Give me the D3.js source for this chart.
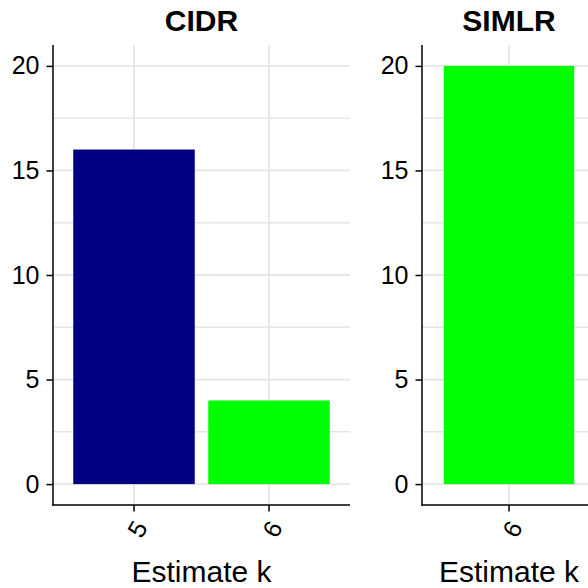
<!DOCTYPE html>
<html>
<head>
<meta charset="utf-8">
<script src="https://cdn.jsdelivr.net/npm/d3@7"></script>
<style>
  html, body { margin: 0; padding: 0; background: #fff; }
  svg { display: block; font-family: "Liberation Sans", Arial, Helvetica, sans-serif; }
</style>
</head>
<body>
<svg id="chart" width="588" height="588"></svg>
<script>
// Estimated number of clusters (k) per method
const methods = ["CIDR", "SIMLR"];
const cidrK = ["5", "6"];
const cidrCounts = [16, 4];
const simlrK = ["6"];
const simlrCounts = [20];
const kColors = { "5": "#000080", "6": "#00FF00" };
const yTicks = [0, 5, 10, 15, 20];
const yMinor = [2.5, 7.5, 12.5, 17.5];
const xTitle = "Estimate k";

const panels = [
  { title: methods[0], k: cidrK, n: cidrCounts, x0: 53, x1: 350 },
  { title: methods[1], k: simlrK, n: simlrCounts, x0: 422, x1: 596 }
];

const plotTop = 45, plotBottom = 505;
const svg = d3.select("#chart");
const y = d3.scaleLinear().domain([-1, 21]).range([plotBottom, plotTop]);

const gridColor = "#e6e6e6";
const fontFamily = "Liberation Sans, Arial, sans-serif";

panels.forEach(p => {
  const x = d3.scaleBand().domain(p.k).range([p.x0, p.x1])
    .paddingInner(0.1).paddingOuter(0.15);
  const g = svg.append("g");

  // grid
  g.selectAll(".hminor").data(yMinor).join("line")
    .attr("x1", p.x0).attr("x2", p.x1)
    .attr("y1", d => y(d)).attr("y2", d => y(d))
    .attr("stroke", gridColor).attr("stroke-width", 1.6);
  g.selectAll(".hmajor").data(yTicks).join("line")
    .attr("x1", p.x0).attr("x2", p.x1)
    .attr("y1", d => y(d)).attr("y2", d => y(d))
    .attr("stroke", gridColor).attr("stroke-width", 1.8);
  g.selectAll(".vmajor").data(p.k).join("line")
    .attr("x1", d => x(d) + x.bandwidth() / 2).attr("x2", d => x(d) + x.bandwidth() / 2)
    .attr("y1", plotTop).attr("y2", plotBottom)
    .attr("stroke", gridColor).attr("stroke-width", 1.8);

  // bars
  g.selectAll(".bar").data(p.k.map((k, i) => ({ k, n: p.n[i] }))).join("rect")
    .attr("x", d => x(d.k)).attr("width", x.bandwidth())
    .attr("y", d => y(d.n)).attr("height", d => y(0) - y(d.n))
    .attr("fill", d => kColors[d.k]);

  // y axis
  const yAxis = g.append("g").attr("transform", `translate(${p.x0},0)`)
    .call(d3.axisLeft(y).tickValues(yTicks).tickSize(6.5).tickPadding(7));
  yAxis.select(".domain").remove();
  yAxis.selectAll(".tick line").attr("stroke", "#000").attr("stroke-width", 1.5);
  yAxis.selectAll(".tick text").attr("fill", "#000").attr("font-size", 25)
    .attr("font-family", fontFamily);
  g.append("line").attr("x1", p.x0).attr("x2", p.x0).attr("y1", plotTop).attr("y2", plotBottom + 0.75)
    .attr("stroke", "#000").attr("stroke-width", 1.5);

  // x axis
  const xAxis = g.append("g").attr("transform", `translate(0,${plotBottom})`)
    .call(d3.axisBottom(x).tickSize(6.5).tickPadding(0));
  xAxis.select(".domain").remove();
  xAxis.selectAll(".tick line").attr("stroke", "#000").attr("stroke-width", 1.5);
  xAxis.selectAll(".tick text")
    .attr("fill", "#000").attr("font-size", 25)
    .attr("font-family", fontFamily)
    .attr("text-anchor", "middle")
    .attr("dy", "0.35em").attr("y", 0)
    .attr("transform", "translate(3.5,24) rotate(-60)");
  g.append("line").attr("x1", p.x0 - 0.75).attr("x2", p.x1).attr("y1", plotBottom).attr("y2", plotBottom)
    .attr("stroke", "#000").attr("stroke-width", 1.5);

  // titles
  g.append("text").attr("x", (p.x0 + p.x1) / 2).attr("y", 30.5)
    .attr("text-anchor", "middle").attr("font-weight", "bold").attr("font-size", 30)
    .text(p.title);
  g.append("text").attr("x", (p.x0 + p.x1) / 2).attr("y", 582)
    .attr("text-anchor", "middle").attr("font-size", 30)
    .text(xTitle);
});
</script>
</body>
</html>
